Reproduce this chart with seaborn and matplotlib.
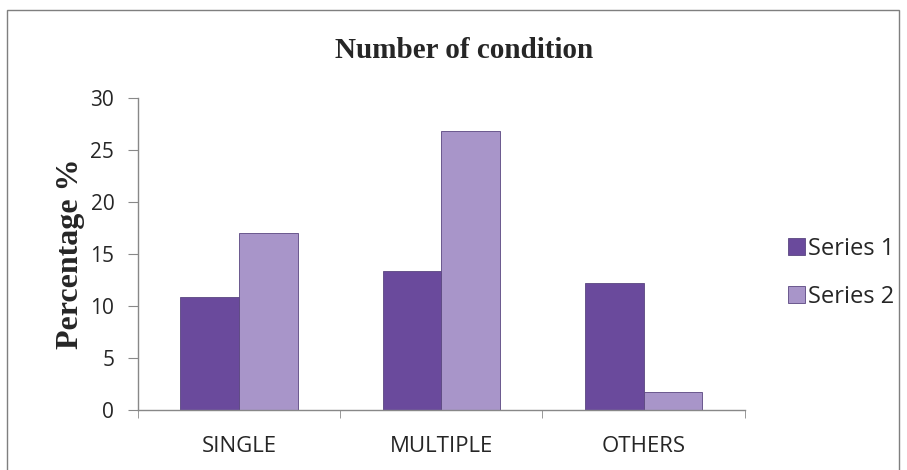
import pandas as pd
import matplotlib.pyplot as plt
import seaborn as sns
from matplotlib.ticker import FixedLocator

# values
categories = ['SINGLE', 'MULTIPLE', 'OTHERS']
series_1 = [10.9, 13.4, 12.2]
series_2 = [17.0, 26.8, 1.7]

df = pd.DataFrame({
    'condition': categories * 2,
    'value': series_1 + series_2,
    'series': ['Series 1'] * 3 + ['Series 2'] * 3,
})

sns.set_style('white')
plt.rcParams['font.family'] = ['Open Sans', 'DejaVu Sans']

fig = plt.figure(figsize=(9.07, 4.7), dpi=100)
ax = fig.add_axes([0.152, 0.128, 0.669, 0.663])

sns.barplot(data=df, x='condition', y='value', hue='series',
            palette=['#6a4a9c', '#a895c9'], width=0.58, ax=ax,
            edgecolor='#5a4680', linewidth=0.6, saturation=1)

ax.set_ylim(0, 30)
ax.set_xlim(-0.5, 2.5)
ax.set_yticks(range(0, 31, 5))
ax.tick_params(axis='y', labelsize=15, length=7, pad=10, direction='out', left=True, color='#888888')
ax.tick_params(axis='x', labelsize=16, length=0, pad=19)
ax.xaxis.set_minor_locator(FixedLocator([-0.5, 0.5, 1.5, 2.5]))
ax.tick_params(axis='x', which='minor', length=6, bottom=True, color='#888888')

for s in ['top', 'right']:
    ax.spines[s].set_visible(False)
for s in ['left', 'bottom']:
    ax.spines[s].set_color('#888888')
    ax.spines[s].set_linewidth(1.0)

ax.set_xlabel('')
ax.set_ylabel('Percentage %', family='Liberation Serif', fontweight='bold', fontsize=23, labelpad=4)
fig.text(0.512, 0.877, 'Number of condition', family='Liberation Serif',
         fontweight='bold', fontsize=21, ha='center', va='baseline')

ax.legend(title=None, frameon=False, loc='center left', bbox_to_anchor=(1.0, 0.44),
          fontsize=17, handlelength=0.7, handleheight=0.7, handletextpad=0.15, labelspacing=1.0,
          borderaxespad=1.45)

# thin frame round the whole figure
fig.patches.append(plt.Rectangle((7 / 907, -0.01), 892 / 907, 1 - 10 / 470 + 0.01,
                                 transform=fig.transFigure, fill=False,
                                 edgecolor='#7f7f7f', linewidth=1))

plt.savefig('out.png', dpi=100)
